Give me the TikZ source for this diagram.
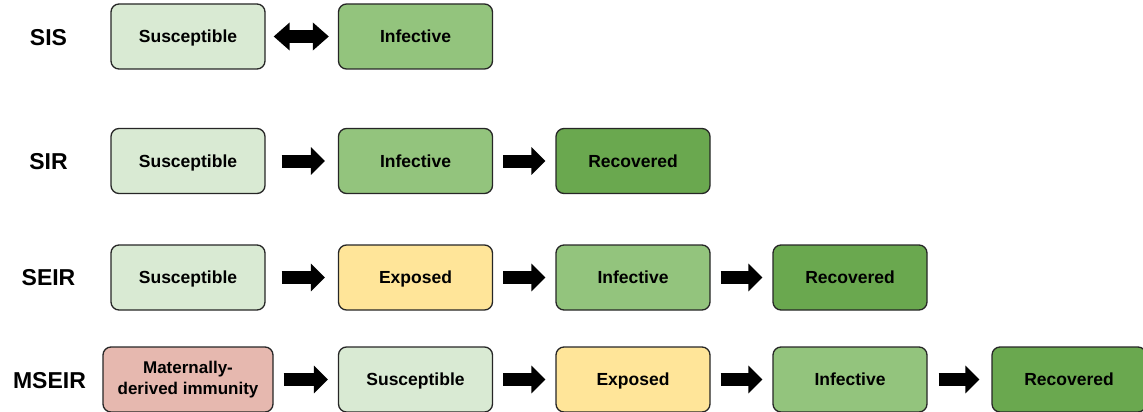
\documentclass[tikz,border=0pt]{standalone}
\usepackage{fontspec}
\setmainfont{Liberation Sans}
\usetikzlibrary{arrows.meta}
\definecolor{cS}{HTML}{D9EAD3}
\definecolor{cI}{HTML}{93C47D}
\definecolor{cR}{HTML}{6AA84F}
\definecolor{cE}{HTML}{FFE599}
\definecolor{cM}{HTML}{E6B8AF}
\tikzset{
  boxbase/.style={draw=black!85, line width=1.3pt, rounded corners=8pt, minimum width=154pt, minimum height=65pt, inner sep=0pt, align=center, font=\fontsize{17.5}{21}\selectfont\bfseries},
  box/.style={boxbase, text height=12.6pt, text depth=0pt},
  rowlabel/.style={font=\fontsize{23}{27}\selectfont\bfseries, inner sep=0pt, text height=16.5pt, text depth=0pt},
  blk/.style={draw=black, line width=13pt, -{Triangle[length=14pt,width=27pt]}},
  dblk/.style={draw=black, line width=13pt, {Triangle[length=16pt,width=27pt]}-{Triangle[length=16pt,width=27pt]}},
  wide/.style={shorten <=16pt, shorten >=13pt},
  narrow/.style={shorten <=10pt, shorten >=10pt}
}
\begin{document}
\begin{tikzpicture}[x=1pt,y=-1pt]
\useasboundingbox (0,0) rectangle (1143,412);
% SIS
\node[rowlabel] (l1) at (48.5,37) {SIS};
\node[box, fill=cS] (s1) at (188,36.5) {Susceptible};
\node[box, fill=cI] (i1) at (415.5,36.5) {Infective};
\draw[dblk, shorten <=8pt, shorten >=9pt] (s1) -- (i1);
% SIR
\node[rowlabel] (l2) at (48.5,161) {SIR};
\node[box, fill=cS] (s2) at (188,161) {Susceptible};
\node[box, fill=cI] (i2) at (415.5,161) {Infective};
\node[box, fill=cR] (r2) at (633,161) {Recovered};
\draw[blk, wide] (s2) -- (i2);
\draw[blk, narrow] (i2) -- (r2);
% SEIR
\node[rowlabel] (l3) at (48.5,277) {SEIR};
\node[box, fill=cS] (s3) at (188,277.5) {Susceptible};
\node[box, fill=cE] (e3) at (415.5,277.5) {Exposed};
\node[box, fill=cI] (i3) at (633,277.5) {Infective};
\node[box, fill=cR] (r3) at (850,277.5) {Recovered};
\draw[blk, wide] (s3) -- (e3);
\draw[blk, narrow] (e3) -- (i3);
\draw[blk, narrow] (i3) -- (r3);
% MSEIR
\node[rowlabel] (l4) at (49.5,380) {MSEIR};
\node[boxbase, fill=cM, minimum width=170pt, font=\fontsize{17}{20.5}\selectfont\bfseries] (m4) at (188,379.5) {Maternally-\\derived immunity};
\node[box, fill=cS] (s4) at (415.5,379.5) {Susceptible};
\node[box, fill=cE] (e4) at (633,379.5) {Exposed};
\node[box, fill=cI] (i4) at (850,379.5) {Infective};
\node[box, fill=cR] (r4) at (1069,379.5) {Recovered};
\draw[blk, narrow] (m4) -- (s4);
\draw[blk, narrow] (s4) -- (e4);
\draw[blk, narrow] (e4) -- (i4);
\draw[blk, shorten <=11pt, shorten >=12pt] (i4) -- (r4);
\end{tikzpicture}
\end{document}
